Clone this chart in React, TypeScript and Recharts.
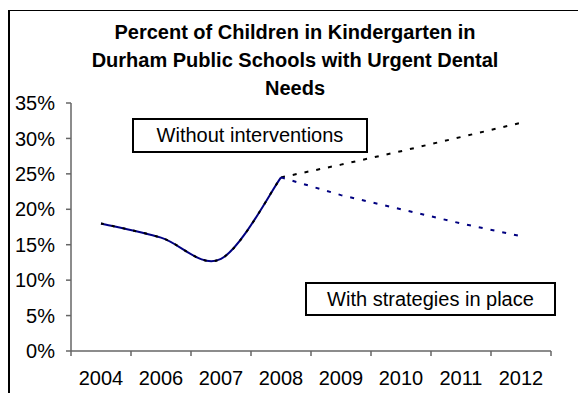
import React from 'react';
import { ComposedChart, Line, XAxis, YAxis } from 'recharts';

const years = ['2004', '2006', '2007', '2008', '2009', '2010', '2011', '2012'];
const actual = [18, 16, 13, 24.5, null, null, null, null];
const withoutInterventions = [null, null, null, 24.5, 26.3, 28.2, 30.2, 32.2];
const withStrategies = [null, null, null, 24.5, 22, 20, 18, 16.2];
const yTicks = [0, 5, 10, 15, 20, 25, 30, 35];

const chartData = years.map((year, i) => ({
  year,
  actual: actual[i],
  without: withoutInterventions[i],
  withStrategies: withStrategies[i],
}));

const W = 578;
const H = 393;
const margin = { top: 103, right: 27, bottom: 0, left: 0 };
const yAxisWidth = 71;
const band = (W - margin.left - margin.right - yAxisWidth) / years.length;
const font = "'Liberation Sans', Arial, sans-serif";
const axisColor = '#666666';

// Excel-like smoothed line (Catmull-Rom through the points)
const excelSmooth = (context: any) => {
  let pts: number[][] = [];
  return {
    areaStart() {},
    areaEnd() {},
    lineStart() {
      pts = [];
    },
    lineEnd() {
      if (!pts.length) return;
      context.moveTo(pts[0][0], pts[0][1]);
      for (let i = 0; i < pts.length - 1; i++) {
        const p0 = pts[Math.max(i - 1, 0)];
        const p1 = pts[i];
        const p2 = pts[i + 1];
        const p3 = pts[Math.min(i + 2, pts.length - 1)];
        context.bezierCurveTo(
          p1[0] + (p2[0] - p0[0]) / 6,
          p1[1] + (p2[1] - p0[1]) / 6,
          p2[0] - (p3[0] - p1[0]) / 6,
          p2[1] - (p3[1] - p1[1]) / 6,
          p2[0],
          p2[1]
        );
      }
    },
    point(x: number, y: number) {
      pts.push([+x, +y]);
    },
  };
};

const XTick = (props: any) => {
  const { x, y, payload, index } = props;
  const axisY = y - 20;
  return (
    <g>
      <line x1={x - band / 2} y1={axisY} x2={x - band / 2} y2={axisY + 5} stroke={axisColor} strokeWidth={1.5} />
      {index === years.length - 1 && (
        <line x1={x + band / 2} y1={axisY} x2={x + band / 2} y2={axisY + 5} stroke={axisColor} strokeWidth={1.5} />
      )}
      <text x={x} y={y} dy="0.71em" textAnchor="middle" fill="#000" fontSize={20} fontFamily={font}>
        {payload.value}
      </text>
    </g>
  );
};

const boxStyle: React.CSSProperties = {
  position: 'absolute',
  border: '2px solid #000',
  background: '#fff',
  boxSizing: 'border-box',
  display: 'flex',
  alignItems: 'center',
  justifyContent: 'center',
  fontFamily: font,
  fontSize: 20,
  color: '#000',
  whiteSpace: 'nowrap',
};

export default function App() {
  return (
    <div style={{ position: 'absolute', left: 0, top: 0, width: W, height: H, overflow: 'hidden', background: '#fff' }}>
      <div
        style={{
          position: 'absolute',
          left: 8,
          top: 10,
          width: 700,
          height: 500,
          borderLeft: '2px solid #000',
          borderTop: '1px solid #000',
        }}
      />
      <ComposedChart width={W} height={H} data={chartData} margin={margin}>
        <XAxis
          dataKey="year"
          tick={<XTick />}
          tickLine={false}
          tickSize={5}
          tickMargin={15}
          height={42}
          padding={{ left: band / 2, right: band / 2 }}
          axisLine={{ stroke: axisColor, strokeWidth: 1.5 }}
          interval={0}
        />
        <YAxis
          domain={[0, 35]}
          ticks={yTicks}
          width={yAxisWidth}
          tickFormatter={(v) => `${v}%`}
          tick={{ fill: '#000', fontSize: 20, fontFamily: font }}
          tickSize={5}
          tickMargin={11}
          tickLine={{ stroke: axisColor, strokeWidth: 1.5 }}
          axisLine={{ stroke: axisColor, strokeWidth: 1.5 }}
          interval={0}
        />
        <Line type={excelSmooth as any} dataKey="actual" stroke="#000080" strokeWidth={2} dot={false} isAnimationActive={false} />
        <Line
          type={excelSmooth as any}
          dataKey="actual"
          stroke="#000"
          strokeWidth={2}
          strokeDasharray="3 8"
          dot={false}
          isAnimationActive={false}
        />
        <Line
          type="linear"
          dataKey="without"
          stroke="#000"
          strokeWidth={2}
          strokeDasharray="4 8"
          dot={false}
          isAnimationActive={false}
        />
        <Line
          type="linear"
          dataKey="withStrategies"
          stroke="#000080"
          strokeWidth={2}
          strokeDasharray="4 8"
          dot={false}
          isAnimationActive={false}
        />
      </ComposedChart>
      <div
        style={{
          position: 'absolute',
          left: 45,
          top: 18,
          width: 500,
          textAlign: 'center',
          fontFamily: font,
          fontWeight: 'bold',
          fontSize: 20,
          lineHeight: '28px',
          color: '#000',
          whiteSpace: 'nowrap',
        }}
      >
        Percent of Children in Kindergarten in
        <br />
        Durham Public Schools with Urgent Dental
        <br />
        Needs
      </div>
      <div style={{ ...boxStyle, left: 132, top: 118, width: 236, height: 35 }}>Without interventions</div>
      <div style={{ ...boxStyle, left: 305, top: 282, width: 251, height: 34 }}>With strategies in place</div>
    </div>
  );
}
